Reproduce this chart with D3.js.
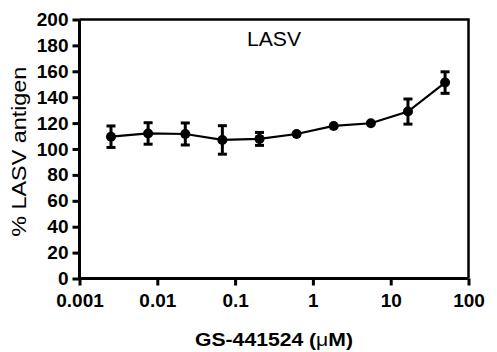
<!DOCTYPE html>
<html><head><meta charset="utf-8">
<script src="https://cdn.jsdelivr.net/npm/d3@7"></script>
<style>body{margin:0;background:#fff}</style>
</head><body>
<svg id="c" width="497" height="352"></svg>
<script>
const concentrations = [0.00254, 0.00762, 0.0229, 0.0686, 0.206, 0.617, 1.85, 5.56, 16.67, 50];
const antigenPct = [109.5, 112.0, 111.6, 107.0, 107.8, 111.6, 117.8, 119.9, 128.9, 151.3];
const errSD = [8.3, 8.3, 8.5, 11.0, 5.0, 1.2, 1.0, 1.0, 9.7, 8.3];
const xTicks = [0.001, 0.01, 0.1, 1, 10, 100];
const xTickLabels = ["0.001", "0.01", "0.1", "1", "10", "100"];
const yTicks = [0, 20, 40, 60, 80, 100, 120, 140, 160, 180, 200];

const svg = d3.select("#c");
const L = 79.5, R = 468.5, T = 19.5, B = 278.5;
const x = d3.scaleLog().domain([0.001, 100]).range([L, R]);
const y = d3.scaleLinear().domain([0, 200]).range([B, T]);
const font = "'Liberation Sans', Arial, sans-serif";

// frame (top and right)
svg.append("path").attr("d", `M${L},${T}H${R}V${B}`).attr("fill","none").attr("stroke","#000").attr("stroke-width",2.5);

// y axis
const ya = svg.append("g").attr("transform", `translate(${L},0)`)
  .call(d3.axisLeft(y).tickValues(yTicks).tickSize(7).tickPadding(4).tickFormat(d3.format("d")));
// x axis
const xa = svg.append("g").attr("transform", `translate(0,${B})`)
  .call(d3.axisBottom(x).tickValues(xTicks).tickSize(7).tickPadding(8).tickFormat((d,i)=>xTickLabels[i]));
[ya, xa].forEach(g => {
  g.select(".domain").attr("stroke-width", 3);
  g.selectAll(".tick line").attr("stroke-width", 3);
  g.selectAll("text").attr("font-family", font).attr("font-weight","bold").attr("font-size", 19).attr("fill","#000");
});
ya.select(".domain").attr("d", `M0,${T}V${B}`);
xa.select(".domain").attr("d", `M${L},0H${R}`);

const data = concentrations.map((c,i)=>({c, v: antigenPct[i], e: errSD[i]}));

// line
svg.append("path").datum(data)
  .attr("d", d3.line().x(d=>x(d.c)).y(d=>y(d.v)))
  .attr("fill","none").attr("stroke","#000").attr("stroke-width",2.2);

// error bars
const eb = svg.append("g").selectAll("g").data(data).join("g");
eb.append("line").attr("x1",d=>x(d.c)).attr("x2",d=>x(d.c))
  .attr("y1",d=>y(d.v+d.e)).attr("y2",d=>y(d.v-d.e)).attr("stroke","#000").attr("stroke-width",3);
eb.filter(d=>d.e>3).selectAll(".cap").data(d=>[[d.c,d.v+d.e],[d.c,d.v-d.e]]).join("line")
  .attr("x1",d=>x(d[0])-4.5).attr("x2",d=>x(d[0])+4.5)
  .attr("y1",d=>y(d[1])).attr("y2",d=>y(d[1])).attr("stroke","#000").attr("stroke-width",3);

// markers
svg.append("g").selectAll("circle").data(data).join("circle")
  .attr("cx",d=>x(d.c)).attr("cy",d=>y(d.v)).attr("r",5).attr("fill","#000");

// titles
svg.append("text").attr("x",247).attr("y",46).attr("font-family",font).attr("font-size",20)
  .attr("textLength",54).attr("lengthAdjust","spacingAndGlyphs").text("LASV");

svg.append("text").attr("transform","translate(26,151.7) rotate(-90)").attr("text-anchor","middle")
  .attr("font-family",font).attr("font-size",21).attr("textLength",170).attr("lengthAdjust","spacingAndGlyphs")
  .text("% LASV antigen");

const xt = svg.append("text").attr("x",274).attr("y",346).attr("text-anchor","middle")
  .attr("font-family",font).attr("font-size",18).attr("font-weight","bold")
  .attr("textLength",158).attr("lengthAdjust","spacingAndGlyphs");
xt.append("tspan").text("GS-441524 (");
xt.append("tspan").attr("font-weight","normal").text("μ");
xt.append("tspan").text("M)");
</script>
</body></html>
